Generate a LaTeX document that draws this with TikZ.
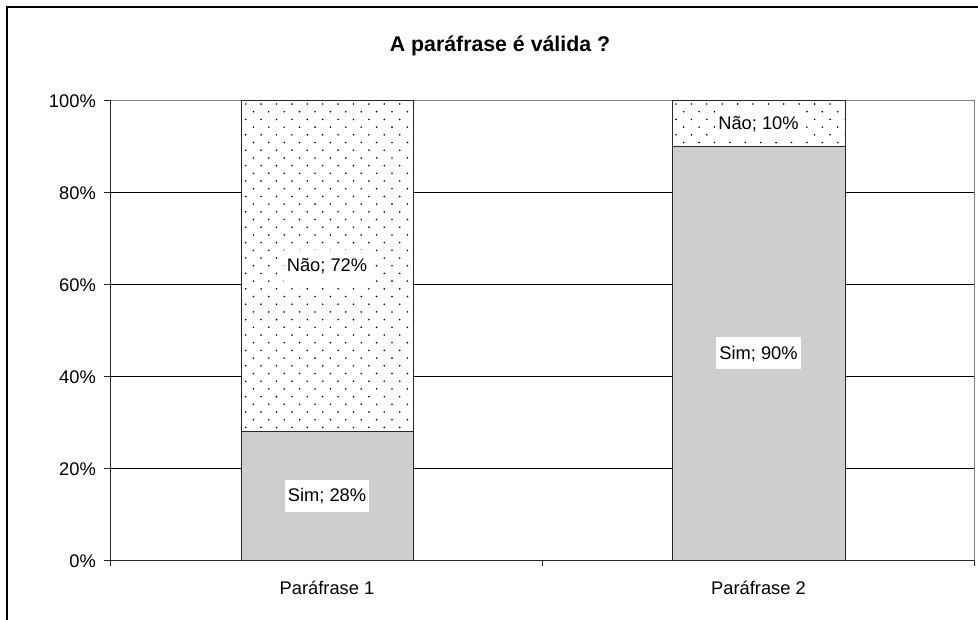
\documentclass[tikz,border=0pt]{standalone}
\usepackage{fontspec}
\setmainfont{Liberation Sans}
\definecolor{simgray}{RGB}{206,206,206}
\definecolor{framegray}{RGB}{128,128,128}
\begin{document}
\begin{tikzpicture}[x=1pt,y=-1pt,
  lbl/.style={font=\fontsize{18.3}{20}\selectfont, inner sep=0pt},
  ylbl/.style={lbl, anchor=base east},
  seglbl/.style={lbl, fill=white, text height=14pt, text depth=2pt, inner xsep=3.3pt, inner ysep=8pt},
  gridline/.style={line width=0.8pt, black},
  axisline/.style={line width=0.9pt, black!85},
  barline/.style={draw=black!85, line width=0.9pt},
  simseg/.style={fill=simgray},
  naoseg/.style={fill=white},
  dotmark/.style={fill=black}
]
\useasboundingbox (0,0) rectangle (978,619);
\fill[white] (0,0) rectangle (978,619);
% outer frame (only left and top visible)
\draw[line width=2.2pt, black] (7.3,625) -- (7.3,7.3) -- (985,7.3);

% title
\node[font=\bfseries\fontsize{21.3}{24}\selectfont, anchor=base, inner sep=0pt] (title) at (500,51) {A paráfrase é válida ?};

% grid lines
\foreach \yy in {192,284,376,468} \draw[gridline] (110,\yy) -- (974,\yy);
\draw[line width=0.8pt, framegray] (110,100) -- (974,100) -- (974,560);

% y labels
\node[ylbl] (y100) at (96,107) {100\%};
\node[ylbl] (y80) at (96,199) {80\%};
\node[ylbl] (y60) at (96,291) {60\%};
\node[ylbl] (y40) at (96,383) {40\%};
\node[ylbl] (y20) at (96,475) {20\%};
\node[ylbl] (y0) at (96,567) {0\%};

% bar 1 : Sim 28%, Nao 72%
\fill[simseg] (241,431.2) rectangle (413,560);
\fill[naoseg] (241,100) rectangle (413,431.2);
\begin{scope}
  \clip (241,100) rectangle (413,431.2);
  \foreach \k in {0,...,43} {
    \pgfmathsetmacro\yy{104+7.7*\k}
    \pgfmathsetmacro\off{mod(\k,2)*7.7}
    \foreach \j in {0,...,11} {
      \fill[dotmark] (245.7+15.4*\j+\off,\yy) circle (0.9pt);
    }
  }
\end{scope}
\draw[barline] (241,100) rectangle (413,560);
\draw[barline] (241,431.2) -- (413,431.2);

% bar 2 : Sim 90%, Nao 10%
\fill[simseg] (672,146) rectangle (845,560);
\fill[naoseg] (672,100) rectangle (845,146);
\begin{scope}
  \clip (672,100) rectangle (845,146);
  \foreach \k in {0,...,6} {
    \pgfmathsetmacro\yy{104+7.7*\k}
    \pgfmathsetmacro\off{mod(\k,2)*7.7}
    \foreach \j in {0,...,11} {
      \fill[dotmark] (676+15.4*\j+\off,\yy) circle (0.9pt);
    }
  }
\end{scope}
\draw[barline] (672,100) rectangle (845,560);
\draw[barline] (672,146) -- (845,146);

% axes
\draw[axisline] (110,100) -- (110,560) -- (974,560);
\foreach \yy in {100,192,284,376,468,560} \draw[axisline] (104,\yy) -- (110,\yy);
\foreach \xx in {110,542,974} \draw[axisline] (\xx,560) -- (\xx,566);

% segment labels
\node[seglbl] (s1) at (327,495.6) {Sim; 28\%};
\node[seglbl] (n1) at (327,265.6) {Não; 72\%};
\node[seglbl] (s2) at (758.5,353) {Sim; 90\%};
\node[seglbl] (n2) at (758.5,123) {Não; 10\%};

% category labels
\node[lbl, anchor=base] (c1) at (327,594) {Paráfrase 1};
\node[lbl, anchor=base] (c2) at (758.5,594) {Paráfrase 2};
\end{tikzpicture}
\end{document}
